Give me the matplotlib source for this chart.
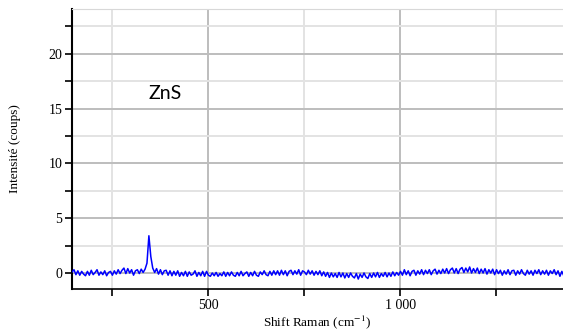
import numpy as np
import matplotlib
matplotlib.use("Agg")
import matplotlib.pyplot as plt
from matplotlib.ticker import MultipleLocator

# spectre Raman ZnS (pas de 5 cm-1 a partir de 146)
debut_shift = 146
pas_shift = 5
intensite = [
    0.1, 0.3, -0.15, 0.2, -0.2, 0.15, -0.1, -0.25, 0.15, -0.2,
    0.25, -0.15, 0.05, 0.3, -0.2, 0.1, -0.15, 0.2, -0.25, 0.05,
    0.15, -0.2, 0.2, -0.1, 0.3, -0.05, 0.25, 0.45, -0.05, 0.4,
    0.0, 0.3, -0.2, 0.2, 0.3, -0.05, 0.35, 0.05, 0.35, 0.9,
    3.4, 1.5, 0.45, 0.05, 0.4, -0.1, 0.3, -0.15, 0.2, 0.25,
    -0.2, 0.2, -0.25, 0.15, -0.2, 0.2, -0.3, 0.05, -0.25, 0.15,
    -0.3, 0.1, -0.2, -0.1, 0.2, -0.3, 0.05, -0.25, 0.15, -0.3,
    0.15, -0.2, -0.3, 0.0, -0.25, 0.05, -0.3, -0.05, -0.25, 0.1,
    -0.3, 0.05, -0.25, 0.1, -0.2, -0.3, 0.05, -0.25, 0.15, -0.25,
    -0.05, 0.1, -0.3, 0.05, -0.25, 0.15, -0.2, -0.3, 0.1, -0.15,
    0.2, -0.15, -0.25, 0.15, -0.2, 0.2, -0.15, 0.2, -0.2, 0.25,
    -0.15, 0.2, -0.25, 0.15, 0.25, -0.15, 0.2, -0.1, 0.3, -0.2,
    0.2, 0.1, -0.15, 0.25, -0.1, 0.2, -0.2, 0.15, -0.15, 0.2,
    -0.25, 0.1, -0.3, 0.05, -0.4, 0.0, -0.35, -0.05, -0.4, 0.05,
    -0.35, 0.0, -0.45, -0.05, -0.4, 0.0, -0.3, -0.45, -0.05, -0.55,
    -0.1, -0.4, 0.0, -0.35, -0.5, -0.05, -0.4, 0.0, -0.35, 0.05,
    -0.4, -0.05, -0.3, 0.05, -0.35, 0.0, -0.3, 0.1, -0.25, 0.05,
    -0.2, 0.15, -0.2, 0.3, -0.15, 0.2, -0.25, 0.15, 0.25, -0.2,
    0.2, -0.1, 0.3, -0.15, 0.25, -0.05, 0.3, -0.15, 0.2, 0.35,
    -0.1, 0.25, -0.05, 0.35, 0.0, 0.4, -0.05, 0.3, 0.45, 0.0,
    0.4, -0.05, 0.35, 0.5, 0.05, 0.45, 0.1, 0.55, 0.0, 0.4,
    0.05, 0.45, -0.05, 0.35, 0.0, 0.4, -0.1, 0.3, 0.0, 0.35,
    -0.15, 0.3, -0.05, 0.25, -0.2, 0.2, -0.1, 0.3, -0.15, 0.2,
    0.25, -0.2, 0.2, -0.1, 0.3, -0.05, -0.2, 0.25, -0.1, 0.2,
    -0.2, 0.25, -0.05, 0.3, -0.15, 0.2, -0.1, 0.25, -0.2, 0.2,
    -0.05, 0.3, -0.15, 0.2, -0.3, 0.15, -0.25,
]
ticks_x = [500, 1000]
labels_x = ["500", "1 000"]
ticks_y = [0, 5, 10, 15, 20]

shift = debut_shift + pas_shift * np.arange(len(intensite))

plt.rcParams['font.family'] = ['Liberation Serif', 'DejaVu Serif']
plt.rcParams['mathtext.fontset'] = 'stix'

fig = plt.figure(figsize=(5.63, 3.32), dpi=100)
ax = fig.add_axes([0.128, 0.1295, 0.872, 0.8435])

ax.plot(shift, intensite, color='#0000ff', lw=1.1, zorder=3)

ax.set_xlim(146, 1424)
ax.set_ylim(-1.46, 24.1)

ax.set_xticks(ticks_x)
ax.set_xticklabels(labels_x)
ax.xaxis.set_minor_locator(MultipleLocator(250))
ax.set_yticks(ticks_y)
ax.yaxis.set_minor_locator(MultipleLocator(2.5))

ax.grid(which='major', color='#bdbdbd', lw=1.4)
ax.grid(which='minor', color='#e3e3e3', lw=1.4)
ax.set_axisbelow(True)

ax.tick_params(which='both', direction='out', length=5, width=1.2,
               labelsize=10, pad=2)
ax.spines['right'].set_visible(False)
ax.spines['top'].set_color('#d8d8d8')
ax.spines['left'].set_linewidth(1.5)
ax.spines['bottom'].set_linewidth(1.2)

ax.set_xlabel("Shift Raman (cm$^{-1}$)", fontsize=9.5, labelpad=1)
ax.set_ylabel("Intensité (coups)", fontsize=9.5, labelpad=20)

ax.text(388, 16.4, "ZnS", fontsize=14, family=['Lato', 'DejaVu Sans'],
        ha='center', va='center')

fig.savefig("out.png", dpi=100)
